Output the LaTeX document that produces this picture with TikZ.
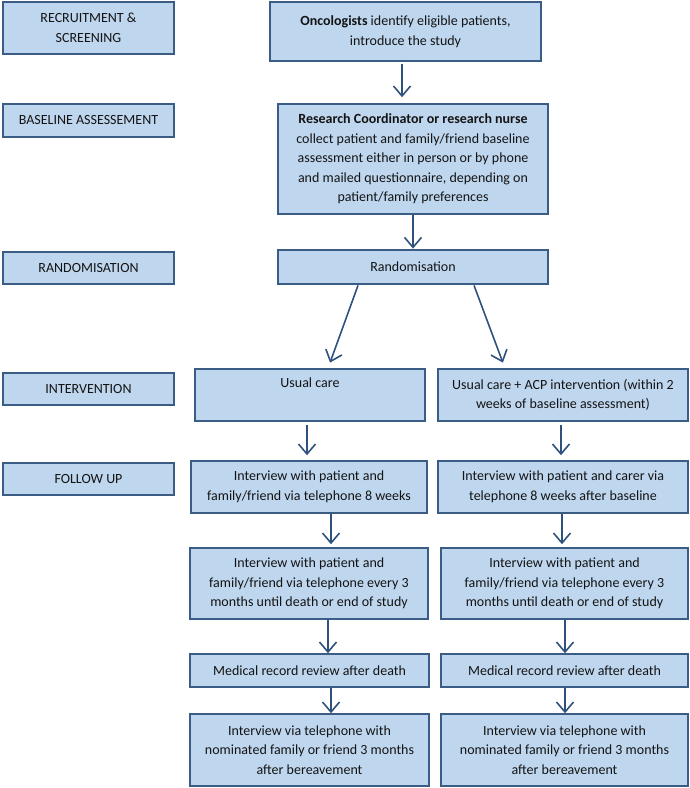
\documentclass[tikz,border=0pt]{standalone}
\usepackage{fontspec}
\setmainfont{Carlito}
\usepackage{tikz}
\usetikzlibrary{arrows.meta}
\definecolor{colorbox}  {RGB}{190,214,238}
\definecolor{colorline} {RGB}{58 ,92 ,133}
\definecolor{colorarrow}{RGB}{46 ,82 ,125}
\definecolor{colortext} {RGB}{20 ,20 ,20 }

\begin{document}
\begin{tikzpicture}[
    x=1pt, y=-1pt,
    font={\fontsize{14}{19.5}\selectfont},
    base/.style={text=colortext,fill=colorbox,draw=colorline,line width=1.5pt,align=center,rectangle,inner sep=0pt},
    stage/.style={base,minimum width=171,minimum height=32},
    flow/.style={-{Straight Barb[length=10pt,width=17pt]},color=colorarrow,line width=1.6pt},
]
    \useasboundingbox (0,0) rectangle (690,788);

    % stages on the left
    \node[stage,minimum height=52] at (88.5,28) (recruit) {RECRUITMENT \&\\SCREENING};
    \node[stage,minimum height=33] at (88.5,120.5) (baseline) {BASELINE ASSESSEMENT};
    \node[stage] at (88.5,268) (randlabel) {RANDOMISATION};
    \node[stage] at (88.5,389) (intervention) {INTERVENTION};
    \node[stage] at (88.5,479) (followup) {FOLLOW UP};

    % main flow
    \node[base,minimum width=271,minimum height=59] at (405.5,31.5) (onc) {\textbf{Oncologists} identify eligible patients,\\introduce the study};
    \node[base,minimum width=270,minimum height=110] at (413,159) (research) {\textbf{Research Coordinator or research nurse}\\collect patient and family/friend baseline\\assessment either in person or by phone\\and mailed questionnaire, depending on\\patient/family preferences};
    \node[base,line width=2.8pt,minimum width=270,minimum height=34] at (413,267) (rand) {Randomisation};

    \node[base,minimum width=230,minimum height=52] at (310,395) (usual) {Usual care\\\strut};
    \node[base,minimum width=250,minimum height=52] at (563,395) (acp) {Usual care + ACP intervention (within 2\\weeks of baseline assessment)};

    \node[base,minimum width=236,minimum height=52] at (309,487) (weekl) {Interview with patient and\\family/friend via telephone 8 weeks};
    \node[base,minimum width=250,minimum height=52] at (563,487) (weekr) {Interview with patient and carer via\\telephone 8 weeks after baseline};

    \node[base,minimum width=238,minimum height=71] at (309,583.5) (monthl) {Interview with patient and\\family/friend via telephone every 3\\months until death or end of study};
    \node[base,minimum width=247,minimum height=71] at (564.5,583.5) (monthr) {Interview with patient and\\family/friend via telephone every 3\\months until death or end of study};

    \node[base,minimum width=239,minimum height=33] at (309.5,670.5) (recordl) {Medical record review after death};
    \node[base,minimum width=247,minimum height=33] at (564.5,670.5) (recordr) {Medical record review after death};

    \node[base,minimum width=239,minimum height=72] at (309.5,750) (bereavel) {Interview via telephone with\\nominated family or friend 3 months\\after bereavement};
    \node[base,minimum width=247,minimum height=72] at (564.5,750) (bereaver) {Interview via telephone with\\nominated family or friend 3 months\\after bereavement};

    % arrows
    \draw[flow,shorten <=2pt,shorten >=6pt]([xshift=-3.5pt]onc.south) to ([xshift=-3.5pt]onc.south |- research.north);
    \draw[flow](research.south) to (research.south |- rand.north);
    \draw[flow,shorten >=6pt]([xshift=-55pt]rand.south) to ([xshift=18pt]usual.north);
    \draw[flow,shorten >=6pt]([xshift=61pt]rand.south) to ([xshift=-58pt]acp.north);
    \draw[flow,shorten <=3pt,shorten >=5pt]([xshift=-3pt]usual.south) to ([xshift=-3pt]usual.south |- weekl.north);
    \draw[flow,shorten <=3pt,shorten >=5pt]([xshift=-2pt]acp.south) to ([xshift=-2pt]acp.south |- weekr.north);
    \draw[flow,shorten >=3pt]([xshift=22pt]weekl.south) to ([xshift=22pt]weekl.south |- monthl.north);
    \draw[flow,shorten >=3pt]([xshift=-1pt]weekr.south) to ([xshift=-1pt]weekr.south |- monthr.north);
    \draw[flow]([xshift=19pt]monthl.south) to ([xshift=19pt]monthl.south |- recordl.north);
    \draw[flow]([xshift=0.5pt]monthr.south) to ([xshift=0.5pt]monthr.south |- recordr.north);
    \draw[flow]([xshift=21.5pt]recordl.south) to ([xshift=21.5pt]recordl.south |- bereavel.north);
    \draw[flow]([xshift=0.5pt]recordr.south) to ([xshift=0.5pt]recordr.south |- bereaver.north);

\end{tikzpicture}
\end{document}
